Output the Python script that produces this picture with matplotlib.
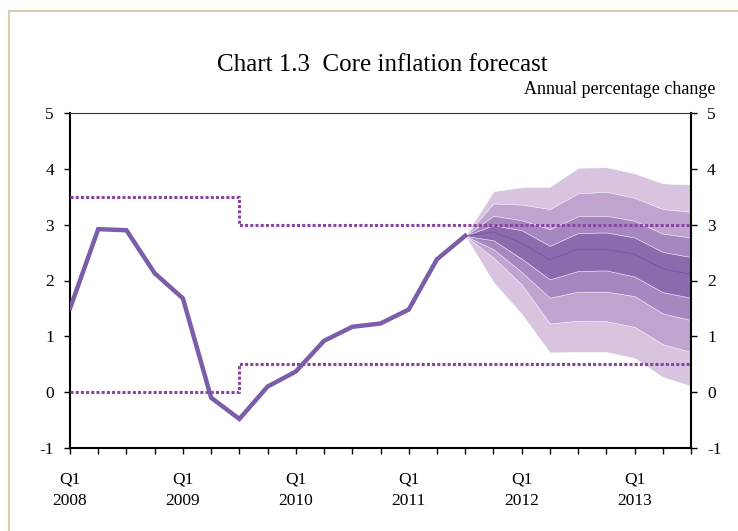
import numpy as np
import matplotlib.pyplot as plt
from matplotlib.patches import Rectangle

plt.rcParams['font.family'] = ['Liberation Serif', 'DejaVu Serif']
plt.rcParams['axes.unicode_minus'] = False

# quarters 2008Q1 .. 2013Q3
quarters = ['Q1\n2008', '', '', '', 'Q1\n2009', '', '', '', 'Q1\n2010', '', '', '',
            'Q1\n2011', '', '', '', 'Q1\n2012', '', '', '', 'Q1\n2013', '', '']

# core inflation, outcome (2008Q1 .. 2011Q3)
core = [1.5, 2.92, 2.9, 2.13, 1.68, -0.1, -0.48, 0.1, 0.37, 0.92, 1.17, 1.23, 1.48, 2.38, 2.8]

# tolerance bounds, per quarter
upper_limit = [3.5, 3.5, 3.5, 3.5, 3.5, 3.5, 3.0, 3.0, 3.0, 3.0, 3.0, 3.0,
               3.0, 3.0, 3.0, 3.0, 3.0, 3.0, 3.0, 3.0, 3.0, 3.0, 3.0]
lower_limit = [0.0, 0.0, 0.0, 0.0, 0.0, 0.0, 0.5, 0.5, 0.5, 0.5, 0.5, 0.5,
               0.5, 0.5, 0.5, 0.5, 0.5, 0.5, 0.5, 0.5, 0.5, 0.5, 0.5]

# fan chart bands (2011Q3 .. 2013Q3)
upper90 = [2.8, 3.60, 3.67, 3.68, 4.02, 4.03, 3.92, 3.74, 3.72]
upper70 = [2.8, 3.38, 3.36, 3.28, 3.56, 3.59, 3.48, 3.28, 3.23]
upper50 = [2.8, 3.16, 3.08, 2.92, 3.15, 3.16, 3.07, 2.84, 2.77]
upper30 = [2.8, 2.99, 2.90, 2.62, 2.85, 2.86, 2.77, 2.51, 2.42]
median = [2.8, 2.87, 2.67, 2.37, 2.56, 2.56, 2.47, 2.21, 2.11]
lower30 = [2.8, 2.72, 2.39, 2.02, 2.17, 2.18, 2.07, 1.79, 1.69]
lower50 = [2.8, 2.56, 2.15, 1.69, 1.80, 1.80, 1.72, 1.41, 1.29]
lower70 = [2.8, 2.41, 1.93, 1.23, 1.28, 1.27, 1.17, 0.86, 0.72]
lower90 = [2.8, 1.97, 1.40, 0.71, 0.72, 0.72, 0.61, 0.27, 0.11]

x_all = np.arange(len(quarters))
x_hist = np.arange(len(core))
x_fan = np.arange(len(core) - 1, len(quarters))

fig = plt.figure(figsize=(7.38, 5.31), dpi=100)
ax = fig.add_axes([70 / 738, 1 - 448 / 531, 621 / 738, 335 / 531])

# fan
bands = [(lower90, upper90, '#d8c4df'),
         (lower70, upper70, '#c0a3cf'),
         (lower50, upper50, '#a787c0'),
         (lower30, upper30, '#8d69ae')]
for lo, hi, col in bands:
    ax.fill_between(x_fan, lo, hi, color=col, edgecolor='white', linewidth=0.4, zorder=1)
ax.plot(x_fan, median, color='#7a5aa5', lw=0.8, zorder=2)

# tolerance bounds
dot = dict(color='#8a45a3', lw=2.2, linestyle=(0, (1.0, 0.7)), drawstyle='steps-post', zorder=3)
ax.plot(x_all, upper_limit, **dot)
ax.plot(x_all, lower_limit, **dot)

ax.plot(x_hist, core, color='#7c5da9', lw=3.2, solid_joinstyle='miter', zorder=4)

ax.set_xlim(0, len(quarters) - 1)
ax.set_ylim(-1, 5)
ax.set_yticks(range(-1, 6))
ax.set_xticks(x_all)
ax.set_xticklabels(quarters, fontsize=12.5, linespacing=1.45)
ax.tick_params(axis='x', direction='out', length=4, width=1, pad=13)
ax.tick_params(axis='y', direction='out', length=4.5, width=1, labelsize=12.5,
               left=True, right=True, labelleft=True, labelright=True, pad=7)

for s in ['left', 'right', 'bottom']:
    ax.spines[s].set_linewidth(1.5)
ax.spines['top'].set_linewidth(0.8)
ax.spines['top'].set_color('#333333')

fig.text(0.518, 1 - 65 / 531, 'Chart 1.3  Core inflation forecast', ha='center', va='center', fontsize=18)
fig.text(716 / 738, 1 - 89 / 531, 'Annual percentage change', ha='right', va='center', fontsize=13)

fig.add_artist(Rectangle((9 / 738, -0.05), 1.0, 1 - 11 / 531 + 0.05, transform=fig.transFigure,
                         fill=False, edgecolor='#d8cfae', lw=1.5, clip_on=False))

fig.savefig('out.png', dpi=100)
